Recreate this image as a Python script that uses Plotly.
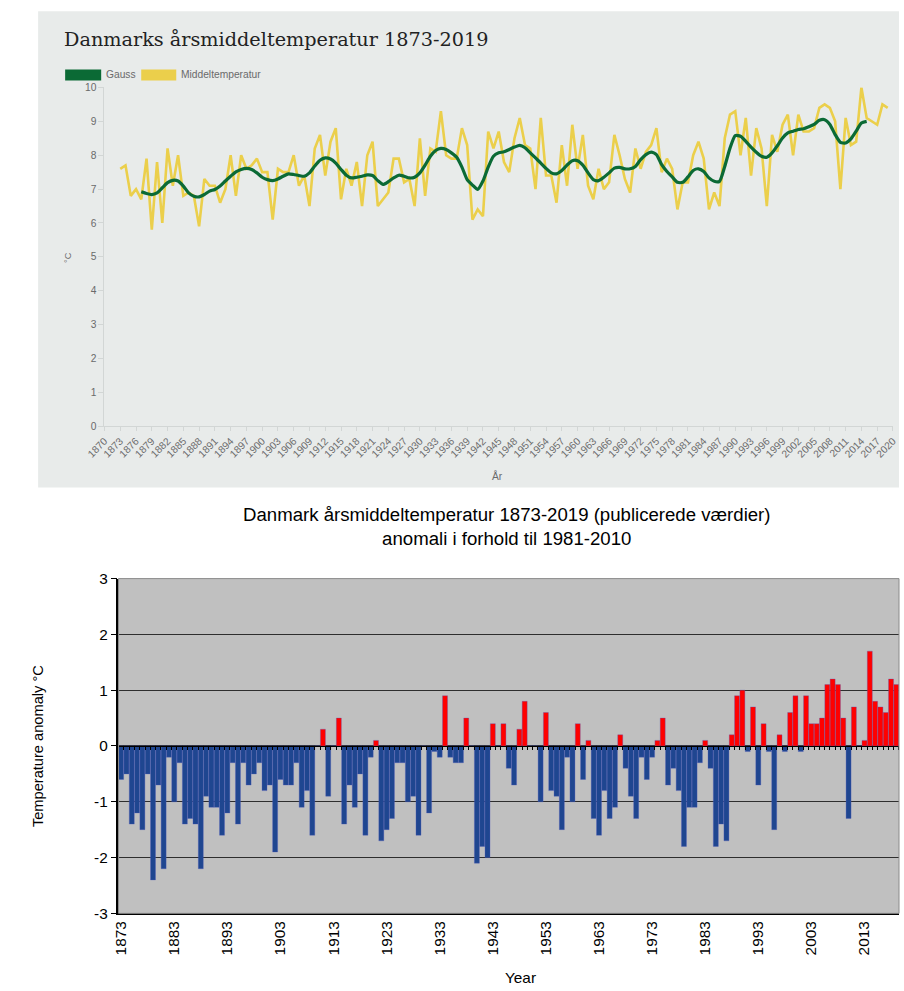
import plotly.graph_objects as go

# ---------------- data ----------------
years = list(range(1873, 2020))

mean_temp = [
    7.6, 7.7, 6.8, 7.0, 6.7, 7.9, 5.8, 7.8, 6.0, 8.2,   # 1873-1882
    7.1, 8.0, 6.8, 6.9, 6.8, 5.9, 7.3, 7.1, 7.1, 6.6,   # 1883-1892
    7.0, 8.0, 6.8, 8.0, 7.6, 7.7, 7.9, 7.5, 7.5, 6.1,   # 1893-1902
    7.6, 7.5, 7.5, 8.0, 7.1, 7.4, 6.5, 8.2, 8.6, 7.4,   # 1903-1912
    8.4, 8.8, 6.7, 7.6, 7.1, 7.8, 6.5, 8.0, 8.4, 6.5,   # 1913-1922
    6.7, 6.9, 7.9, 7.9, 7.2, 7.3, 6.5, 8.5, 6.8, 8.2,   # 1923-1932
    8.1, 9.3, 8.0, 7.9, 7.9, 8.8, 8.3, 6.1, 6.4, 6.2,   # 1933-1942
    8.7, 8.2, 8.7, 7.8, 7.5, 8.5, 9.1, 8.3, 8.2, 7.0,   # 1943-1952
    9.1, 7.4, 7.4, 6.6, 8.3, 7.1, 8.9, 7.6, 8.6, 7.1,   # 1953-1962
    6.7, 7.6, 7.0, 7.2, 8.6, 8.0, 7.3, 6.9, 8.2, 7.6,   # 1963-1972
    8.1, 8.3, 8.8, 7.5, 7.9, 7.6, 6.4, 7.2, 7.2, 8.0,   # 1973-1982
    8.4, 7.9, 6.4, 6.9, 6.5, 8.5, 9.2, 9.3, 8.0, 9.1,   # 1983-1992
    7.4, 8.8, 8.2, 6.5, 8.6, 8.1, 8.9, 9.2, 8.0, 9.2,   # 1993-2002
    8.7, 8.7, 8.8, 9.4, 9.5, 9.4, 9.0, 7.0, 9.1, 8.3,   # 2003-2012
    8.4, 10.0, 9.1, 9.0, 8.9, 9.5, 9.4                  # 2013-2019
]

gauss_years = list(range(1877, 2016))
gauss = [
    6.92, 6.87, 6.84, 6.89, 7.04, 7.19, 7.26, 7.24, 7.09, 6.89,   # 1877-1886
    6.79, 6.77, 6.84, 6.94, 6.99, 7.09, 7.24, 7.38, 7.51, 7.58,   # 1887-1896
    7.61, 7.58, 7.48, 7.35, 7.28, 7.25, 7.30, 7.38, 7.45, 7.43,   # 1897-1906
    7.40, 7.38, 7.48, 7.68, 7.85, 7.92, 7.89, 7.77, 7.58, 7.41,   # 1907-1916
    7.33, 7.35, 7.38, 7.42, 7.40, 7.25, 7.14, 7.22, 7.33, 7.41,   # 1917-1926
    7.38, 7.33, 7.35, 7.48, 7.71, 7.97, 8.14, 8.20, 8.17, 8.07,   # 1927-1936
    7.94, 7.65, 7.28, 7.12, 6.99, 7.24, 7.65, 7.97, 8.07, 8.10,   # 1937-1946
    8.17, 8.24, 8.29, 8.22, 8.07, 7.92, 7.77, 7.61, 7.48, 7.45,   # 1947-1956
    7.55, 7.71, 7.84, 7.84, 7.71, 7.48, 7.28, 7.25, 7.35, 7.48,   # 1957-1966
    7.62, 7.64, 7.60, 7.60, 7.67, 7.87, 8.02, 8.09, 8.02, 7.72,   # 1967-1976
    7.52, 7.36, 7.20, 7.20, 7.36, 7.55, 7.60, 7.52, 7.33, 7.23,   # 1977-1986
    7.23, 7.67, 8.21, 8.58, 8.56, 8.41, 8.24, 8.09, 7.97, 7.94,   # 1987-1996
    8.07, 8.28, 8.51, 8.66, 8.71, 8.76, 8.78, 8.84, 8.91, 9.03,   # 1997-2006
    9.05, 8.91, 8.61, 8.38, 8.36, 8.48, 8.71, 8.95, 9.00          # 2007-2015
]

anomaly = [
    -0.6, -0.5, -1.4, -1.2, -1.5, -0.5, -2.4, -0.7, -2.2, -0.2,   # 1873-1882
    -1.0, -0.3, -1.4, -1.3, -1.4, -2.2, -0.9, -1.1, -1.1, -1.6,   # 1883-1892
    -1.2, -0.3, -1.4, -0.3, -0.7, -0.5, -0.3, -0.8, -0.7, -1.9,   # 1893-1902
    -0.6, -0.7, -0.7, -0.3, -1.1, -0.8, -1.6, 0.0, 0.3, -0.9,     # 1903-1912
    0.0, 0.5, -1.4, -0.7, -1.1, -0.5, -1.6, -0.2, 0.1, -1.7,      # 1913-1922
    -1.5, -1.3, -0.3, -0.3, -1.0, -0.9, -1.6, 0.0, -1.2, -0.1,    # 1923-1932
    -0.2, 0.9, -0.2, -0.3, -0.3, 0.5, 0.0, -2.1, -1.8, -2.0,      # 1933-1942
    0.4, 0.0, 0.4, -0.4, -0.7, 0.3, 0.8, 0.0, 0.0, -1.0,          # 1943-1952
    0.6, -0.8, -0.9, -1.5, -0.2, -1.0, 0.4, -0.6, 0.1, -1.3,      # 1953-1962
    -1.6, -0.8, -1.3, -1.1, 0.2, -0.4, -0.9, -1.3, -0.2, -0.6,    # 1963-1972
    -0.2, 0.1, 0.5, -0.7, -0.4, -0.8, -1.8, -1.1, -1.1, -0.3,     # 1973-1982
    0.1, -0.4, -1.8, -1.4, -1.7, 0.2, 0.9, 1.0, -0.1, 0.7,        # 1983-1992
    -0.7, 0.4, -0.1, -1.5, 0.2, -0.1, 0.6, 0.9, -0.1, 0.9,        # 1993-2002
    0.4, 0.4, 0.5, 1.1, 1.2, 1.1, 0.5, -1.3, 0.7, 0.0,            # 2003-2012
    0.1, 1.7, 0.8, 0.7, 0.6, 1.2, 1.1                             # 2013-2019
]

bottom_ytick_vals = [-3, -2, -1, 0, 1, 2, 3]
bottom_ytick_text = ["-3", "-2", "-1", "0", "1", "2", "3"]

# ---------------- geometry helpers ----------------
W, H = 904, 991
# mapping between figure pixels and the photographed picture (measured with a test frame)
SX, OX = 0.9725, 18.9
SY, OY = 0.9806, 9.7
FS = 1 / 0.977  # font compensation


def clamp(v):
    return max(0.0, min(1.0, v))


def px(x):
    """target picture x (pixels) -> paper x"""
    return clamp(((x - OX) / SX) / W)


def py(y):
    """target picture y (pixels from top) -> paper y"""
    return clamp(1 - ((y - OY) / SY) / H)


def fs(s):
    return round(s * FS, 2)


SANS = "Liberation Sans, Arial, sans-serif"

fig = go.Figure()

# top chart
fig.add_trace(go.Scatter(
    x=years, y=mean_temp, mode="lines", name="Middeltemperatur",
    line=dict(color="#ebcf4b", width=2.6), xaxis="x", yaxis="y",
    showlegend=False, hoverinfo="x+y"))
fig.add_trace(go.Scatter(
    x=gauss_years, y=gauss, mode="lines", name="Gauss",
    line=dict(color="#0b6a35", width=3.2, shape="spline", smoothing=0.6),
    xaxis="x", yaxis="y", showlegend=False, hoverinfo="x+y"))

# bottom chart
bar_colors = ["#ff0000" if v > 0 else "#1f4690" for v in anomaly]
fig.add_trace(go.Bar(
    x=years, y=anomaly, marker=dict(color=bar_colors,
                                    line=dict(color="rgba(80,90,190,0.55)", width=0.6)),
    xaxis="x2", yaxis="y2", showlegend=False))
# carrier for the zero-line tick axis
fig.add_trace(go.Scatter(x=[], y=[], xaxis="x3", yaxis="y2", showlegend=False))

top_x_dom = [px(104.3), px(892)]
top_y_dom = [py(426), py(88)]
bot_x_dom = [px(118.3), px(903)]
bot_y_dom = [py(912), py(578)]
zero_pos = (bot_y_dom[0] + bot_y_dom[1]) / 2

fig.update_layout(
    width=W, height=H, autosize=False,
    margin=dict(l=0, r=0, t=0, b=0),
    paper_bgcolor="white", plot_bgcolor="rgba(0,0,0,0)",
    bargap=0.06,
    font=dict(family=SANS),
    xaxis=dict(domain=top_x_dom, anchor="y", range=[1870, 2020],
               tickmode="linear", tick0=1870, dtick=3, tickangle=-45,
               tickfont=dict(size=fs(10), color="#6a6a6a", family=SANS),
               showline=True, linecolor="#d2d6d5", linewidth=1,
               ticks="outside", ticklen=4, tickcolor="#d2d6d5",
               showgrid=False, zeroline=False),
    yaxis=dict(domain=top_y_dom, anchor="x", range=[0, 10],
               tickmode="linear", tick0=0, dtick=1,
               tickfont=dict(size=fs(10), color="#6a6a6a", family=SANS),
               showline=True, linecolor="#d2d6d5", linewidth=1,
               ticks="outside", ticklen=5, tickcolor="#d2d6d5",
               showgrid=False, zeroline=False),
    xaxis2=dict(domain=bot_x_dom, anchor="y2", range=[1872.5, 2019.5],
                tickmode="linear", tick0=1873, dtick=10, tickangle=-90,
                tickfont=dict(size=fs(15), color="black", family=SANS),
                showline=True, linecolor="black", linewidth=1.5,
                ticks="", showgrid=False, zeroline=False),
    yaxis2=dict(domain=bot_y_dom, anchor="x2", range=[-3, 3],
                tickmode="array", tickvals=bottom_ytick_vals, ticktext=bottom_ytick_text,
                tickfont=dict(size=fs(15), color="black", family=SANS),
                showline=True, linecolor="black", linewidth=1.5,
                ticks="outside", ticklen=6, tickcolor="black", tickwidth=1.2,
                showgrid=True, gridcolor="#2e2e2e", gridwidth=1.4,
                zeroline=False),
    xaxis3=dict(domain=bot_x_dom, overlaying="x2", anchor="free",
                position=zero_pos, range=[1872.5, 2019.5],
                tickmode="linear", tick0=1872.5, dtick=1,
                showline=True, linecolor="black", linewidth=1.2,
                ticks="outside", ticklen=3, tickcolor="black", tickwidth=1,
                showticklabels=False, showgrid=False, zeroline=False),
)

shapes = [
    # top panel background
    dict(type="rect", xref="paper", yref="paper", x0=px(38), x1=1.0,
         y0=py(487), y1=py(12), fillcolor="#e8ebea", line=dict(width=0), layer="below"),
    # bottom plot background
    dict(type="rect", xref="x2 domain", yref="y2 domain", x0=0, x1=1, y0=0, y1=1,
         fillcolor="#c0c0c0", line=dict(width=0), layer="below"),
    # bottom plot border
    dict(type="rect", xref="x2 domain", yref="y2 domain", x0=0, x1=1, y0=0, y1=1,
         fillcolor="rgba(0,0,0,0)", line=dict(color="#8c8c8c", width=1), layer="above"),
    # legend swatches (top chart)
    dict(type="rect", xref="paper", yref="paper", x0=px(65), x1=px(101),
         y0=py(81), y1=py(70), fillcolor="#0b6a35", line=dict(width=0)),
    dict(type="rect", xref="paper", yref="paper", x0=px(141), x1=px(176),
         y0=py(81), y1=py(70), fillcolor="#ebcf4b", line=dict(width=0)),
]

annotations = [
    dict(text="Danmarks årsmiddeltemperatur 1873-2019", x=px(62), y=py(40),
         xref="paper", yref="paper", xanchor="left", yanchor="middle", showarrow=False,
         font=dict(family="DejaVu Serif, Liberation Serif, serif", size=fs(18.8), color="#222222")),
    dict(text="Gauss", x=px(104), y=py(75.5), xref="paper", yref="paper",
         xanchor="left", yanchor="middle", showarrow=False,
         font=dict(size=fs(10), color="#6a6a6a", family=SANS)),
    dict(text="Middeltemperatur", x=px(179), y=py(75.5), xref="paper", yref="paper",
         xanchor="left", yanchor="middle", showarrow=False,
         font=dict(size=fs(10), color="#6a6a6a", family=SANS)),
    dict(text="°C", x=px(68), y=py(258), xref="paper", yref="paper", textangle=-90,
         xanchor="center", yanchor="middle", showarrow=False,
         font=dict(size=fs(9), color="#6a6a6a", family=SANS)),
    dict(text="År", x=px(497), y=py(476), xref="paper", yref="paper",
         xanchor="center", yanchor="middle", showarrow=False,
         font=dict(size=fs(10), color="#6a6a6a", family=SANS)),
    dict(text="Danmark årsmiddeltemperatur 1873-2019 (publicerede værdier)<br>anomali i forhold til 1981-2010",
         x=px(506), y=py(526), xref="paper", yref="paper",
         xanchor="center", yanchor="middle", showarrow=False, align="center",
         font=dict(size=fs(18.2), color="black", family=SANS)),
    dict(text="Temperature anomaly °C", x=px(38), y=py(745), xref="paper", yref="paper",
         textangle=-90, xanchor="center", yanchor="middle", showarrow=False,
         font=dict(size=fs(14.3), color="black", family=SANS)),
    dict(text="Year", x=px(520), y=0, xref="paper", yref="paper",
         xanchor="center", yanchor="bottom", yshift=-5, showarrow=False,
         font=dict(size=fs(15), color="black", family=SANS)),
]

fig.update_layout(shapes=shapes, annotations=annotations)

fig.write_html("out.html")
